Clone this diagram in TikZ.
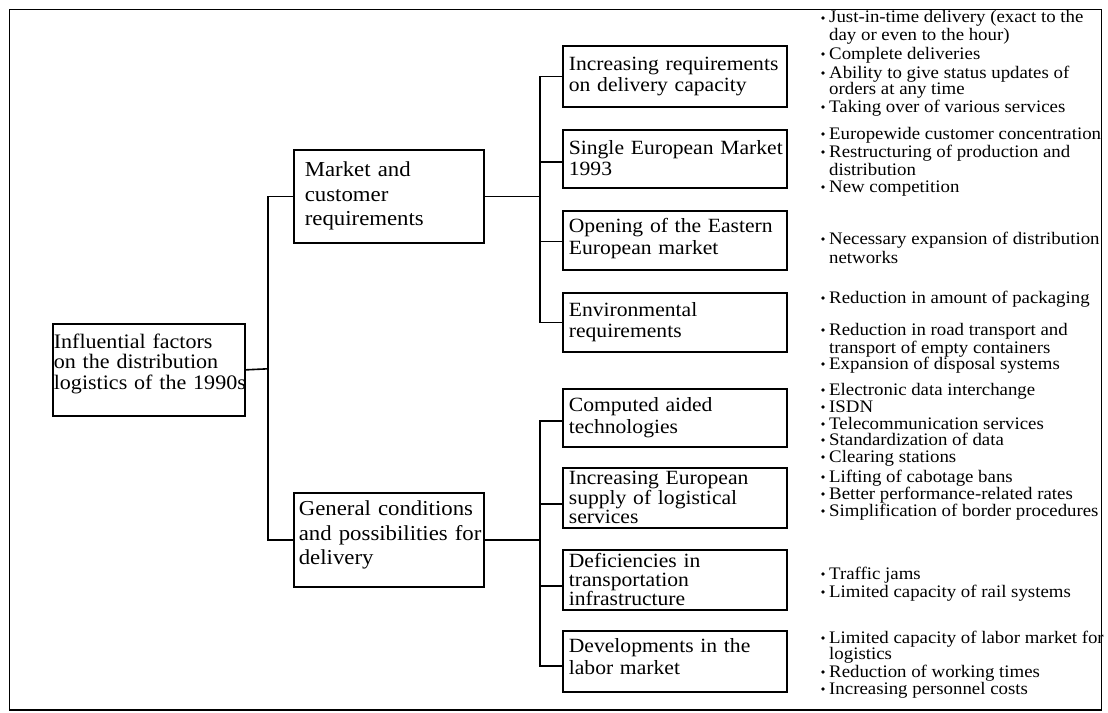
\documentclass[tikz,border=0pt]{standalone}
\usepackage{fontspec}
\setmainfont{Liberation Serif}[FakeStretch=1.07]
\begin{document}
\begin{tikzpicture}[x=1pt,y=-1pt,
  frame/.style={line width=1.7pt},
  link/.style={line width=1.6pt},
  box/.style={draw, line width=1.7pt, anchor=north west, align=left, inner ysep=0pt},
  kid/.style={box, minimum width=224pt, inner xsep=6pt, text width=212pt,
              font=\fontsize{20.2}{21.5}\selectfont},
  mid/.style={box, minimum width=190pt, font=\fontsize{21.3}{24.5}\selectfont},
  lift/.style={execute at end node={\endgraf\vspace*{#1}}},
  item/.style={anchor=base west, inner sep=0pt, font=\fontsize{17.6}{17}\selectfont},
  dot/.style={fill=black}]
\useasboundingbox (0,0) rectangle (1108,712);

% root of the tree
\node[box, minimum width=192pt, minimum height=92pt, inner xsep=1pt, text width=190pt,
      font=\fontsize{20.6}{20.5}\selectfont, lift=12pt] (root) at (52,323)
  {Influential factors\\on the distribution\\\mbox{logistics of the 1990s}};

% second level
\node[mid, minimum height=93pt, inner xsep=11pt, text width=168pt] (market) at (293,149)
  {Market and\\customer\\requirements};
\node[mid, minimum height=94pt, inner xsep=5pt, text width=180pt, lift=9pt] (general) at (293,492)
  {\mbox{General conditions}\\\mbox{and possibilities for}\\delivery};

% third level
\node[kid, minimum height=61pt] (c1) at (562,45)  {\mbox{Increasing requirements}\\on delivery capacity};
\node[kid, minimum height=58pt, lift=2pt] (c2) at (562,129) {\mbox{Single European Market}\\1993};
\node[kid, minimum height=59pt, lift=4pt] (c3) at (562,210) {\mbox{Opening of the Eastern}\\European market};
\node[kid, minimum height=59pt] (c4) at (562,292) {Environmental\\requirements};
\node[kid, minimum height=58pt] (c5) at (562,388) {Computed aided\\technologies};
\node[kid, minimum height=60pt, font=\fontsize{20.2}{19.5}\selectfont] (c6) at (562,467)
  {Increasing European\\supply of logistical\\services};
\node[kid, minimum height=60pt, font=\fontsize{20.2}{19}\selectfont] (c7) at (562,549)
  {Deficiencies in\\transportation\\infrastructure};
\node[kid, minimum height=61pt, lift=10pt] (c8) at (562,630) {Developments in the\\labor market};

% connectors
\coordinate (j0) at (268,368.8);
\draw[link] (root.east) -- (j0);
\draw[link] (j0) |- (market.west);
\draw[link] (j0) |- (general.west);

\draw[link] (market.east) -- ++(55.3,0) coordinate (j1);
\draw[link] (j1) |- (c1.west);
\draw[link] (j1) |- ([yshift=-3pt]c2.west);
\draw[link] (j1) |- ([yshift=-1pt]c3.west);
\draw[link] (j1) |- (c4.west);

\draw[link] (general.east) -- ++(55.3,0) coordinate (j2);
\draw[link] (j2) |- ([yshift=-3pt]c5.west);
\draw[link] (j2) |- ([yshift=-6pt]c6.west);
\draw[link] (j2) |- ([yshift=-6pt]c7.west);
\draw[link] (j2) |- ([yshift=-4.5pt]c8.west);

% bullet lists: number / visual centre of the line / bullet flag / text
\foreach \n/\yy/\bb/\txt in {
  1/17/1/{Just-in-time delivery (exact to the},
  2/34/0/{day or even to the hour)},
  3/53/1/{Complete deliveries},
  4/72/1/{Ability to give status updates of},
  5/88/0/{orders at any time},
  6/106/1/{Taking over of various services},
  7/133/1/{Europewide customer concentration},
  8/151/1/{Restructuring of production and},
  9/169/0/{distribution},
  10/186/1/{New competition},
  11/238/1/{Necessary expansion of distribution},
  12/257/0/{networks},
  13/297/1/{Reduction in amount of packaging},
  14/329/1/{Reduction in road transport and},
  15/347/0/{transport of empty containers},
  16/363/1/{Expansion of disposal systems},
  17/389/1/{Electronic data interchange},
  18/406/1/{ISDN},
  19/423/1/{Telecommunication services},
  20/439/1/{Standardization of data},
  21/456/1/{Clearing stations},
  22/476/1/{Lifting of cabotage bans},
  23/493/1/{Better performance-related rates},
  24/510/1/{Simplification of border procedures},
  25/573/1/{Traffic jams},
  26/591/1/{Limited capacity of rail systems},
  27/637/1/{Limited capacity of labor market for},
  28/653/0/{logistics},
  29/671/1/{Reduction of working times},
  30/688/1/{Increasing personnel costs}}
{
  \node[item] (t\n) at (829,\yy+6) {\txt};
  \ifnum\bb=1 \fill[dot] (823,\yy+1) circle (1.8pt); \fi
}

% outer frame
\draw[frame] (9.6,9.6) rectangle (1101.6,710);
\end{tikzpicture}
\end{document}
